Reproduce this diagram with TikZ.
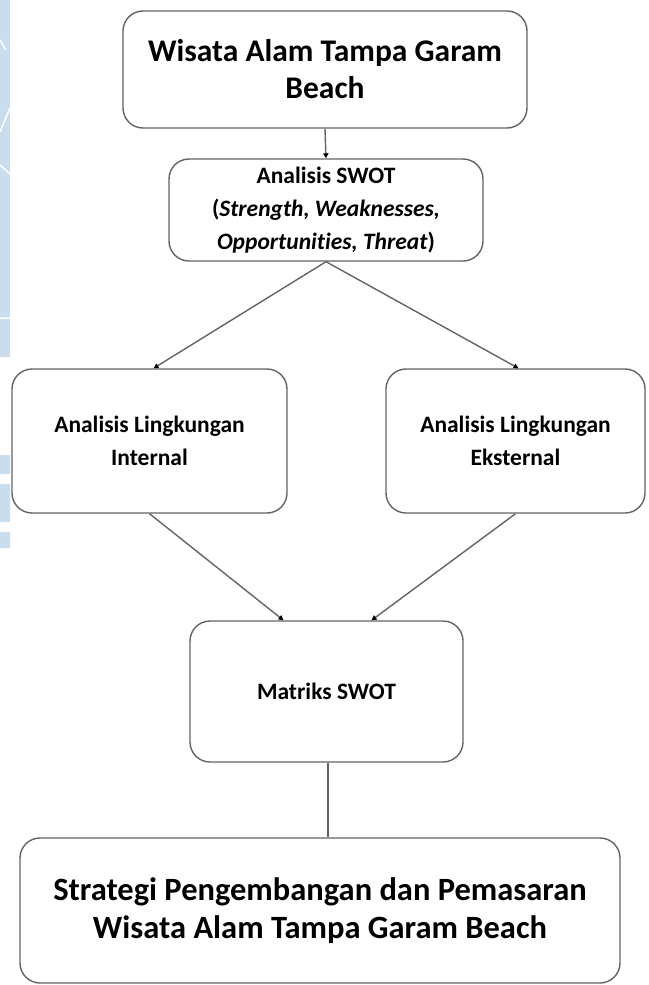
\documentclass[tikz,border=0pt]{standalone}
\usepackage{fontspec}
\setmainfont[Ligatures=NoCommon]{Carlito}
\usetikzlibrary{arrows.meta,positioning,calc}
\definecolor{boxline}{RGB}{100,100,100}
\definecolor{wmblue}{RGB}{200,222,238}
\tikzset{
    bigbox/.style={draw=boxline, line width=1.4pt, rounded corners=20pt, align=center,
        font=\fontsize{31.5}{37}\selectfont\bfseries, fill=white},
    swotbox/.style={draw=boxline, line width=1.4pt, rounded corners=20pt, align=center,
        font=\fontsize{23.5}{33}\selectfont\bfseries, fill=white},
    flowarrow/.style={-{Triangle[length=5pt,width=5pt,fill=black,color=black]}, draw=boxline, line width=1.4pt}
}

\begin{document}
\begin{tikzpicture}[x=1pt, y=-1pt]
\useasboundingbox (0,0) rectangle (648,985);
\fill[wmblue] (0,0) rectangle (10,357);
\draw[white, line width=1.5pt] (10,108) -- (0,132) (0,165) -- (10,174) (0,318) -- (10,318) (0,40) -- (6,50);
\fill[wmblue] (0,455) rectangle (10,474) (0,484) rectangle (10,522) (0,532) rectangle (10,548);

\node[bigbox, minimum width=404pt, minimum height=117pt] (wisata) at (325,69.5)
    {Wisata Alam Tampa Garam\\Beach};
\node[swotbox, minimum width=314pt, minimum height=102pt] (swot) at (326,210)
    {Analisis SWOT\\(\textit{Strength, Weaknesses,}\\\textit{Opportunities, Threat})};
\node[swotbox, minimum width=275pt, minimum height=144pt] (internal) at (149.5,441)
    {Analisis Lingkungan\\Internal};
\node[swotbox, minimum width=259pt, minimum height=144pt] (eksternal) at (515.5,441)
    {Analisis Lingkungan\\Eksternal};
\node[swotbox, minimum width=273pt, minimum height=141pt] (matriks) at (326.5,691.5)
    {Matriks SWOT};
\node[bigbox, font=\fontsize{32.5}{38}\selectfont\bfseries, minimum width=600pt, minimum height=145pt] (strategi) at (320,910.5)
    {Strategi Pengembangan dan Pemasaran\\Wisata Alam Tampa Garam Beach};

\draw[flowarrow] (wisata.south) -- (swot.north);
\draw[flowarrow] (swot.south) -- ([xshift=4pt]internal.north);
\draw[flowarrow] (swot.south) -- ([xshift=3pt]eksternal.north);
\draw[flowarrow] (internal.south) -- ([xshift=-43pt]matriks.north);
\draw[flowarrow] (eksternal.south) -- ([xshift=45pt]matriks.north);
\draw[boxline, line width=1.4pt] ([xshift=1.5pt]matriks.south) -- ([xshift=1.5pt]matriks.south |- strategi.north);
\end{tikzpicture}
\end{document}
